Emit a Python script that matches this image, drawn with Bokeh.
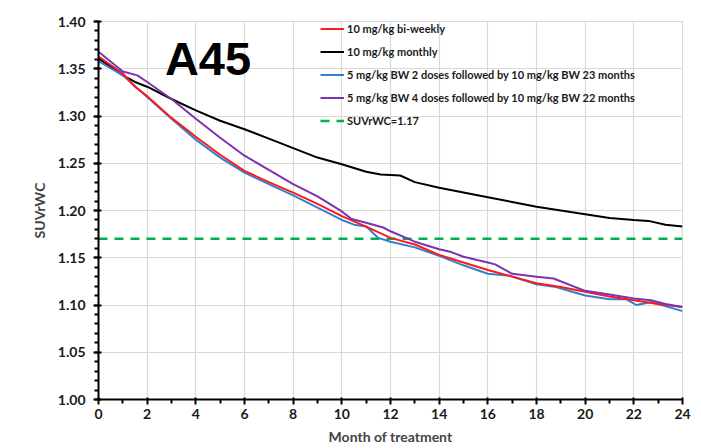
from bokeh.plotting import figure
from bokeh.models import Legend, LegendItem, Label, FixedTicker, Range1d, CustomJSTickFormatter
from bokeh.embed import file_html
from bokeh.resources import INLINE

# ---- data ----
months_biweekly = [0, 1, 1.5, 2, 3, 4, 5, 6, 7, 8, 9, 10, 11, 12, 13, 14, 15, 16, 17, 18, 19, 20, 21, 22, 23, 24]
suvr_biweekly = [1.363, 1.345, 1.331, 1.321, 1.298, 1.278, 1.259, 1.242, 1.230, 1.219, 1.207, 1.194, 1.183, 1.171,
                 1.164, 1.153, 1.145, 1.137, 1.130, 1.123, 1.119, 1.114, 1.109, 1.105, 1.101, 1.098]

months_monthly = [0, 1, 1.5, 2, 3, 4, 5, 6, 7, 8, 9, 10, 11, 11.6, 12.4, 13, 14, 15, 16, 17, 18, 19, 20, 21, 22, 22.6, 23.3, 24]
suvr_monthly = [1.361, 1.343, 1.336, 1.331, 1.318, 1.306, 1.295, 1.286, 1.276, 1.266, 1.256, 1.249, 1.241, 1.238,
                1.237, 1.230, 1.224, 1.219, 1.214, 1.209, 1.204, 1.200, 1.196, 1.192, 1.190, 1.189, 1.185, 1.183]

months_2doses = [0, 1, 2, 3, 4, 5, 6, 7, 8, 9, 10, 10.5, 11, 11.5, 12, 13, 14, 15, 16, 16.9, 18, 18.8, 20, 21, 21.7,
                 22.1, 22.7, 23.4, 24]
suvr_2doses = [1.358, 1.343, 1.320, 1.297, 1.275, 1.256, 1.240, 1.228, 1.216, 1.203, 1.190, 1.185, 1.183, 1.171,
               1.167, 1.161, 1.152, 1.142, 1.133, 1.131, 1.122, 1.119, 1.110, 1.106, 1.106, 1.100, 1.103, 1.098, 1.0935]

months_4doses = [0, 1, 1.6, 2, 3, 4, 5, 6, 7, 8, 9, 10, 10.4, 11, 11.7, 12, 13, 14, 14.5, 15, 16, 16.3, 17, 18, 18.7,
                 20, 21, 21.5, 22, 22.7, 23.3, 24]
suvr_4doses = [1.368, 1.347, 1.343, 1.336, 1.318, 1.297, 1.277, 1.258, 1.243, 1.228, 1.215, 1.199, 1.191, 1.187,
               1.182, 1.178, 1.167, 1.159, 1.156, 1.151, 1.145, 1.143, 1.133, 1.130, 1.128, 1.115, 1.111, 1.109,
               1.107, 1.105, 1.101, 1.098]

threshold_months = [0, 24]
threshold_value = 1.17

series_labels = ["10 mg/kg bi-weekly", "10 mg/kg monthly",
                 "5 mg/kg BW 2 doses followed by 10 mg/kg BW 23 months",
                 "5 mg/kg BW 4 doses followed by 10 mg/kg BW 22 months",
                 "SUVrWC=1.17"]
x_ticks = list(range(0, 25, 2))
y_ticks = [1.00, 1.05, 1.10, 1.15, 1.20, 1.25, 1.30, 1.35, 1.40]

FONT = "Lato"

p = figure(width=701, height=448, output_backend="svg", toolbar_location=None,
           x_range=Range1d(0, 24), y_range=Range1d(1.00, 1.40),
           min_border_left=98, min_border_right=19, min_border_top=21, min_border_bottom=49)
p.outline_line_color = "#d9d9d9"
p.background_fill_color = "white"
p.border_fill_color = "white"

# grid
p.xgrid.ticker = FixedTicker(ticks=x_ticks)
p.ygrid.ticker = FixedTicker(ticks=y_ticks)
for g in (p.xgrid[0], p.ygrid[0]):
    g.grid_line_color = "#d9d9d9"
    g.grid_line_width = 1.2

# x axis
xa = p.xaxis[0]
xa.ticker = FixedTicker(ticks=x_ticks, minor_ticks=list(range(1, 24, 2)))
xa.axis_line_color = "black"
xa.axis_line_width = 2
xa.major_tick_line_width = 2
xa.major_tick_out = 5
xa.major_tick_in = 2
xa.minor_tick_line_width = 2
xa.minor_tick_out = 4
xa.minor_tick_in = 0
xa.major_label_text_font = FONT
xa.major_label_text_font_style = "bold"
xa.major_label_text_font_size = "14px"
xa.major_label_text_color = "#1a1a1a"
xa.major_label_standoff = 4
xa.axis_label = "Month of treatment"
xa.axis_label_text_font = FONT
xa.axis_label_text_font_style = "bold"
xa.axis_label_text_font_size = "14px"
xa.axis_label_standoff = 6

# y axis
ya = p.yaxis[0]
ya.ticker = FixedTicker(ticks=y_ticks,
                        minor_ticks=[round(1.00 + 0.01 * i, 2) for i in range(41)])
ya.axis_line_color = "black"
ya.axis_line_width = 2
ya.major_tick_line_width = 2
ya.major_tick_out = 5
ya.major_tick_in = 3
ya.minor_tick_line_width = 2
ya.minor_tick_out = 4
ya.minor_tick_in = 0
ya.formatter = CustomJSTickFormatter(code="return tick.toFixed(2);")
ya.major_label_text_font = FONT
ya.major_label_text_font_style = "bold"
ya.major_label_text_font_size = "14px"
ya.major_label_text_color = "#1a1a1a"
ya.major_label_standoff = 8
ya.axis_label = "SUVrWC"
ya.axis_label_text_font = FONT
ya.axis_label_text_font_style = "bold"
ya.axis_label_text_font_size = "14px"
ya.axis_label_standoff = 7

# series
r_thr = p.line(threshold_months, [threshold_value] * len(threshold_months),
               line_color="#00b050", line_width=2.5, line_dash="9 7")
r_mon = p.line(months_monthly, suvr_monthly, line_color="black", line_width=2)
r_2d = p.line(months_2doses, suvr_2doses, line_color="#2f80d2", line_width=2)
r_bi = p.line(months_biweekly, suvr_biweekly, line_color="#ff1a1a", line_width=2)
r_4d = p.line(months_4doses, suvr_4doses, line_color="#7b33b0", line_width=2)

legend = Legend(items=[
    LegendItem(label=series_labels[0], renderers=[r_bi]),
    LegendItem(label=series_labels[1], renderers=[r_mon]),
    LegendItem(label=series_labels[2], renderers=[r_2d]),
    LegendItem(label=series_labels[3], renderers=[r_4d]),
    LegendItem(label=series_labels[4], renderers=[r_thr]),
], location=(222, 268), orientation="vertical")
legend.background_fill_alpha = 0
legend.border_line_color = None
legend.padding = 0
legend.margin = 0
legend.spacing = 2
legend.label_height = 21
legend.glyph_height = 21
legend.glyph_width = 24
legend.label_standoff = 3
legend.label_text_font = FONT
legend.label_text_font_style = "bold"
legend.label_text_font_size = "11px"
legend.label_text_color = "#1a1a1a"
p.add_layout(legend, "center")

p.add_layout(Label(x=4.5, y=1.361, text="A45", text_align="center", text_baseline="alphabetic",
                   text_font="Liberation Sans", text_font_style="bold", text_font_size="47px",
                   text_color="black"))

open("out.html", "w").write(file_html(p, INLINE))
